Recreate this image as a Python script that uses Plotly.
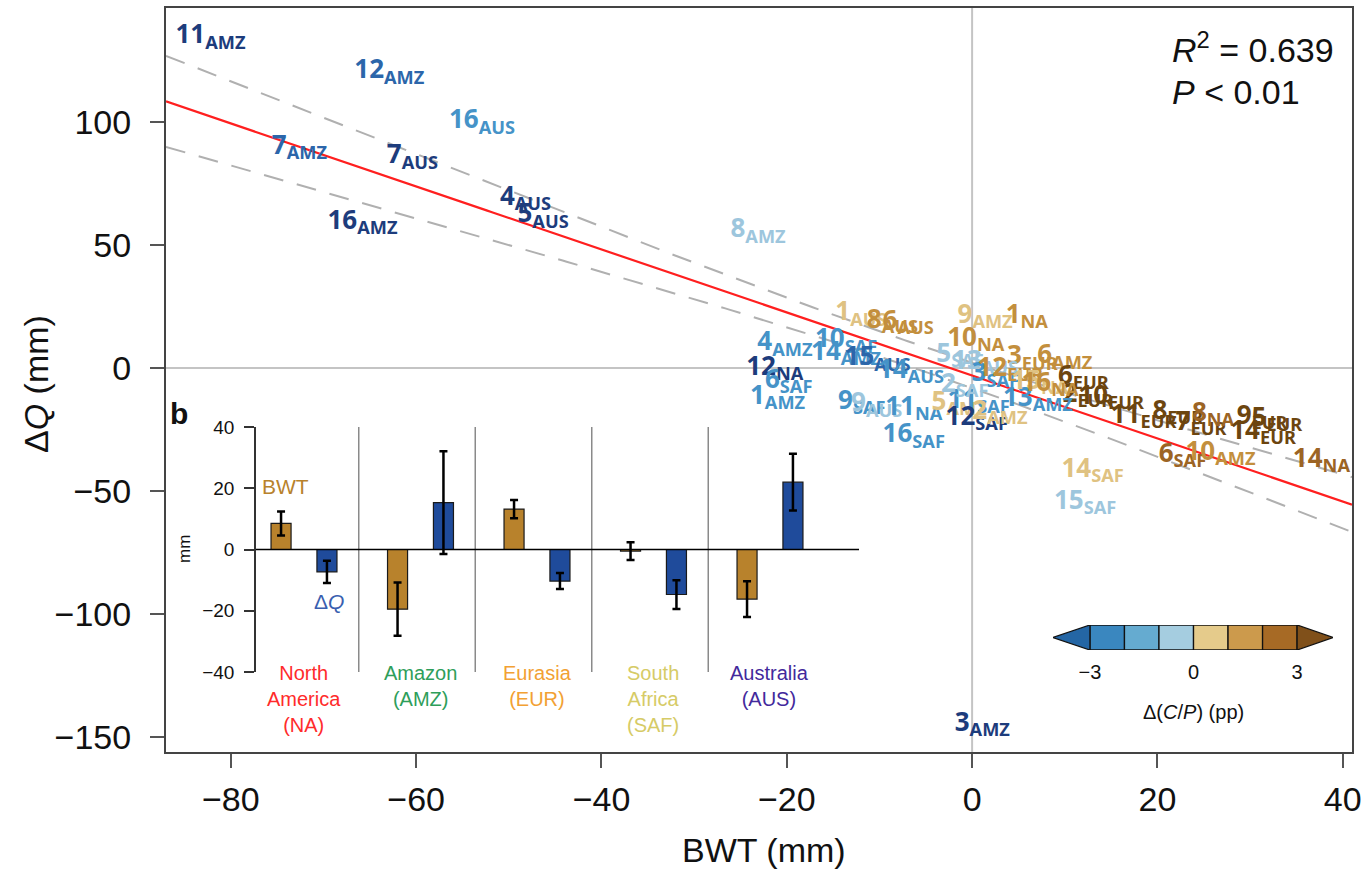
import numpy as np
import plotly.graph_objects as go

# ---------------- main panel data: labelled simulations ----------------
label_num = ["11", "12", "16", "7", "7", "4", "5", "16", "8", "3",
             "1", "8", "6", "9", "1", "10", "4", "10", "14", "15",
             "14", "12", "6", "1", "9", "9", "11", "16", "5", "11",
             "12", "3", "6", "6", "2", "10", "11", "8", "7", "8",
             "14", "9", "5", "14", "6", "10", "14", "15",
             "5", "13", "3", "2", "13", "12", "15", "16", "2"]
label_reg = ["AMZ", "AMZ", "AUS", "AMZ", "AUS", "AUS", "AUS", "AMZ", "AMZ", "AMZ",
             "AUS", "AUS", "AUS", "AMZ", "NA", "NA", "AMZ", "SAF", "AMZ", "AUS",
             "AUS", "NA", "SAF", "AMZ", "SAF", "AUS", "NA", "SAF", "AMZ", "SAF",
             "SAF", "EUR", "AMZ", "EUR", "EUR", "EUR", "EUR", "EUR", "EUR", "NA",
             "EUR", "EUR", "EUR", "NA", "SAF", "AMZ", "SAF", "SAF",
             "SAF", "AUS", "SAF", "SAF", "AMZ", "EUR", "NA", "NA", "AMZ"]
label_bwt = [-82.2, -62.9, -52.9, -72.6, -60.4, -48.2, -46.3, -65.8, -23.1, 1.1,
             -12.0, -8.6, -6.9, 1.4, 5.9, 0.4, -20.2, -13.6, -13.6, -10.2,
             -6.6, -21.3, -19.8, -21.0, -11.9, -10.3, -6.3, -6.3, -1.4, 0.7,
             0.5, 6.5, 10.0, 12.0, 12.5, 15.0, 18.5, 22.2, 24.7, 26.0,
             31.4, 31.3, 32.9, 37.7, 22.7, 26.8, 13.0, 12.2,
             -1.3, 1.4, 2.5, -0.8, 7.1, 4.1, 7.3, 8.4, 3.0]
label_dq = [134.6, 120.3, 100.0, 89.8, 85.8, 69.1, 61.8, 59.3, 55.7, -144.7,
            22.0, 19.1, 18.7, 21.1, 21.1, 11.8, 9.8, 11.0, 6.1, 3.7,
            -1.2, 0.0, -5.3, -11.8, -13.8, -15.0, -16.3, -27.6, -14.2, -13.4,
            -20.3, 4.1, 4.5, -3.7, -11.0, -11.8, -19.5, -17.9, -22.4, -18.7,
            -26.0, -19.9, -20.7, -37.4, -35.4, -34.6, -41.5, -54.5,
            5.3, 2.4, -2.8, -6.9, -12.6, -0.4, -5.7, -6.5, -17.9]
label_dcp = [-3.5, -2.5, -1.5, -2.5, -3.5, -3.5, -3.5, -3.5, -0.5, -3.5,
             0.5, 1.5, 1.5, 0.5, 1.5, 1.5, -1.5, -1.5, -1.5, -2.5,
             -1.5, -3.5, -1.5, -1.5, -1.5, -0.5, -1.5, -1.5, 0.5, -1.5,
             -3.5, 1.5, 1.5, 3.5, 3.5, 3.5, 3.5, 3.5, 3.5, 2.5,
             3.5, 3.5, 3.5, 2.5, 2.5, 1.5, 0.5, -0.5,
             -0.5, -0.5, -1.5, -0.5, -1.5, 1.5, 0.5, 1.5, 0.5]

# regression fit and its confidence band
fit_slope = -1.28
fit_intercept = -3.0
band_at_mean = 5.0
band_slope_term = 0.217
bwt_mean = -5.0
r_squared = "0.639"
p_text = "0.01"

# colour-bar levels of Δ(C/P) (pp)
cp_levels = [-3, -2, -1, 0, 1, 2, 3]
cp_ticks = [-3, 0, 3]

# ---------------- inset (panel b) data ----------------
regions = ["NA", "AMZ", "EUR", "SAF", "AUS"]
region_names = ["North<br>America<br>(NA)", "Amazon<br>(AMZ)", "Eurasia<br>(EUR)",
                "South<br>Africa<br>(SAF)", "Australia<br>(AUS)"]
bwt_mean_reg = [8.5, -19.5, 13.2, -0.5, -16.2]
bwt_err_reg = [3.9, 8.7, 3.0, 2.9, 5.8]
dq_mean_reg = [-7.3, 15.3, -10.3, -14.7, 22.0]
dq_err_reg = [3.6, 16.8, 2.6, 4.7, 9.3]
inset_ticks = [-40, -20, 0, 20, 40]

# ---------------- styles ----------------
LABEL_COLORS = ["#1d3c7c", "#2c66aa", "#4593c8", "#9dc6dd",
                "#dfc282", "#c38f3d", "#9c6424", "#6c450f"]
CBAR_COLORS = ["#2466a5", "#3a87bf", "#65abd0", "#a5cde0",
               "#e5cb8b", "#cc9a4c", "#a76a25", "#80501a"]
REGION_COLORS = ["#ff2b2b", "#2e9e5a", "#f2a133", "#d6cb66", "#43299c"]
BWT_COLOR = "#b8822c"
DQ_COLOR = "#1f4b9b"
MAIN_FONT = "Liberation Sans"
LABEL_FONT = "Noto Sans"

W, H = 1366, 869
ML, MR, MT, MB = 166, 14, 8, 117
PW, PH = W - ML - MR, H - MT - MB


def px_x(px):
    return (px - ML) / PW


def px_y(py):
    return (H - MB - py) / PH


def bin_index(v):
    return int(min(max(np.floor(v) + 4, 0), 7))


X_RANGE = [-87, 41]
Y_RANGE = [-156, 146.3]

fig = go.Figure()

# confidence band and fit line
xx = np.linspace(X_RANGE[0], X_RANGE[1], 300)
yfit = fit_slope * xx + fit_intercept
hw = np.sqrt(band_at_mean ** 2 + (band_slope_term * (xx - bwt_mean)) ** 2)
for sgn in (1, -1):
    fig.add_trace(go.Scatter(x=xx, y=yfit + sgn * hw, mode="lines",
                             line=dict(color="#b0b0b0", width=2, dash="20px,14px"),
                             hoverinfo="skip", showlegend=False))
fig.add_trace(go.Scatter(x=xx, y=yfit, mode="lines",
                         line=dict(color="#ff1f1f", width=2.2),
                         hoverinfo="skip", showlegend=False))

# labelled points
texts = [f"{n}<sub>{r}</sub>" for n, r in zip(label_num, label_reg)]
colors = [LABEL_COLORS[bin_index(v)] for v in label_dcp]
fig.add_trace(go.Scatter(x=label_bwt, y=label_dq, mode="text", text=texts,
                         textposition="middle center", cliponaxis=False,
                         textfont=dict(family=LABEL_FONT, size=26, color=colors, weight=700),
                         hoverinfo="skip", showlegend=False))

# inset bars
gx = np.arange(len(regions))
off = 0.197
bw = 0.172
fig.add_trace(go.Bar(x=gx - off, y=bwt_mean_reg, width=bw, xaxis="x2", yaxis="y2",
                     marker=dict(color=BWT_COLOR, line=dict(color="#1a1a1a", width=1.2)),
                     error_y=dict(type="data", array=bwt_err_reg, color="black",
                                  thickness=2.5, width=4),
                     showlegend=False, hoverinfo="skip"))
fig.add_trace(go.Bar(x=gx + off, y=dq_mean_reg, width=bw, xaxis="x2", yaxis="y2",
                     marker=dict(color=DQ_COLOR, line=dict(color="#1a1a1a", width=1.2)),
                     error_y=dict(type="data", array=dq_err_reg, color="black",
                                  thickness=2.5, width=4),
                     showlegend=False, hoverinfo="skip"))

shapes = []
# zero cross lines in main panel
shapes.append(dict(type="line", xref="x", yref="y domain", x0=0, x1=0, y0=0, y1=1,
                   line=dict(color="#c4c4c4", width=2), layer="below"))
shapes.append(dict(type="line", xref="x domain", yref="y", x0=0, x1=1, y0=0, y1=0,
                   line=dict(color="#c4c4c4", width=2), layer="below"))
# inset separators and zero line
for i in range(len(regions) - 1):
    shapes.append(dict(type="line", xref="x2", yref="y2", x0=i + 0.47, x1=i + 0.47,
                       y0=-40.5, y1=40.5, line=dict(color="#8a8a8a", width=1.5)))
shapes.append(dict(type="line", xref="x2 domain", yref="y2", x0=0, x1=1, y0=0, y1=0,
                   line=dict(color="black", width=1.6), layer="above"))
# colour bar
for k in range(len(cp_levels) - 1):
    shapes.append(dict(type="rect", xref="x3", yref="y3", x0=cp_levels[k], x1=cp_levels[k + 1],
                       y0=0, y1=1, fillcolor=CBAR_COLORS[k + 1],
                       line=dict(color="#111", width=1.3)))
lo, hi = cp_levels[0], cp_levels[-1]
shapes.append(dict(type="path", xref="x3", yref="y3",
                   path=f"M {lo},0 L {lo},1 L {lo - 1.07},0.5 Z",
                   fillcolor=CBAR_COLORS[0], line=dict(color="#111", width=1.3)))
shapes.append(dict(type="path", xref="x3", yref="y3",
                   path=f"M {hi},0 L {hi},1 L {hi + 1.04},0.5 Z",
                   fillcolor=CBAR_COLORS[-1], line=dict(color="#111", width=1.3)))

ann = []
ann.append(dict(text="BWT (mm)", xref="paper", yref="paper", x=px_x(764), y=px_y(850),
                showarrow=False, font=dict(family=MAIN_FONT, size=34, color="#111"),
                xanchor="center", yanchor="middle"))
ann.append(dict(text="Δ<i>Q</i> (mm)", xref="paper", yref="paper", x=px_x(36), y=px_y(384),
                showarrow=False, textangle=-90, font=dict(family=MAIN_FONT, size=34, color="#111"),
                xanchor="center", yanchor="middle"))
ann.append(dict(text=f"<i>R</i><sup>2</sup> = {r_squared}", xref="paper", yref="paper",
                x=px_x(1170), y=px_y(48), showarrow=False, xanchor="left", yanchor="middle",
                font=dict(family=MAIN_FONT, size=34, color="#111")))
ann.append(dict(text=f"<i>P</i> &lt; {p_text}", xref="paper", yref="paper",
                x=px_x(1170), y=px_y(92), showarrow=False, xanchor="left", yanchor="middle",
                font=dict(family=MAIN_FONT, size=34, color="#111")))
# inset annotations
ann.append(dict(text="<b>b</b>", xref="paper", yref="paper", x=px_x(179), y=px_y(414),
                showarrow=False, xanchor="center", yanchor="middle",
                font=dict(family=MAIN_FONT, size=30, color="#111")))
ann.append(dict(text="mm", xref="paper", yref="paper", x=px_x(184), y=px_y(549),
                showarrow=False, textangle=-90, xanchor="center", yanchor="middle",
                font=dict(family=MAIN_FONT, size=17, color="#111")))
ann.append(dict(text="BWT", xref="x2", yref="y2", x=-0.155, y=20.6, showarrow=False,
                xanchor="center", yanchor="middle",
                font=dict(family=MAIN_FONT, size=21, color=BWT_COLOR)))
ann.append(dict(text="Δ<i>Q</i>", xref="x2", yref="y2", x=0.215, y=-17.0, showarrow=False,
                xanchor="center", yanchor="middle",
                font=dict(family=MAIN_FONT, size=21, color="#3a5fb0")))
for i, (nm, col) in enumerate(zip(region_names, REGION_COLORS)):
    ann.append(dict(text=nm, xref="x2", yref="paper", x=i, y=px_y(660), showarrow=False,
                    xanchor="center", yanchor="top", align="center",
                    font=dict(family=MAIN_FONT, size=20, color=col)))
ann.append(dict(text="Δ(<i>C</i>/<i>P</i>) (pp)", xref="paper", yref="paper",
                x=px_x(1193), y=px_y(712), showarrow=False, xanchor="center", yanchor="middle",
                font=dict(family=MAIN_FONT, size=20, color="#111")))

axis_common = dict(showgrid=False, zeroline=False, automargin=False)
fig.update_layout(
    width=W, height=H,
    margin=dict(l=ML, r=MR, t=MT, b=MB, pad=0, autoexpand=False),
    paper_bgcolor="white", plot_bgcolor="white",
    showlegend=False, barmode="overlay",
    xaxis=dict(domain=[0, 1], range=X_RANGE, tickvals=[-80, -60, -40, -20, 0, 20, 40],
               ticks="outside", ticklen=14, tickwidth=2, tickcolor="#555",
               showline=True, mirror=True, linecolor="#444", linewidth=2,
               tickfont=dict(family=MAIN_FONT, size=34, color="#111"),
               ticklabelstandoff=2, **axis_common),
    yaxis=dict(domain=[0, 1], range=Y_RANGE, tickvals=[-150, -100, -50, 0, 50, 100],
               ticks="outside", ticklen=14, tickwidth=2, tickcolor="#555",
               showline=True, mirror=True, linecolor="#444", linewidth=2,
               tickfont=dict(family=MAIN_FONT, size=34, color="#111"),
               ticklabelstandoff=12, **axis_common),
    xaxis2=dict(domain=[px_x(256), px_x(859)], anchor="y2", range=[-0.412, 4.764],
                visible=False, **axis_common),
    yaxis2=dict(domain=[px_y(672), px_y(427)], anchor="x2", range=[-40, 40],
                tickvals=inset_ticks, ticks="outside", ticklen=10, tickwidth=1.5,
                tickcolor="#333", showline=True, linecolor="#333", linewidth=1.5,
                tickfont=dict(family=MAIN_FONT, size=19, color="#111"),
                ticklabelstandoff=6, **axis_common),
    xaxis3=dict(domain=[px_x(1053), px_x(1333)], anchor="y3", range=[-4.07, 4.04],
                tickvals=cp_ticks, ticks="", showline=False,
                tickfont=dict(family=MAIN_FONT, size=20, color="#111"),
                ticklabelstandoff=8, **axis_common),
    yaxis3=dict(domain=[px_y(650), px_y(625)], anchor="x3", range=[0, 1],
                visible=False, **axis_common),
    shapes=shapes, annotations=ann,
)

fig.write_html("out.html")
